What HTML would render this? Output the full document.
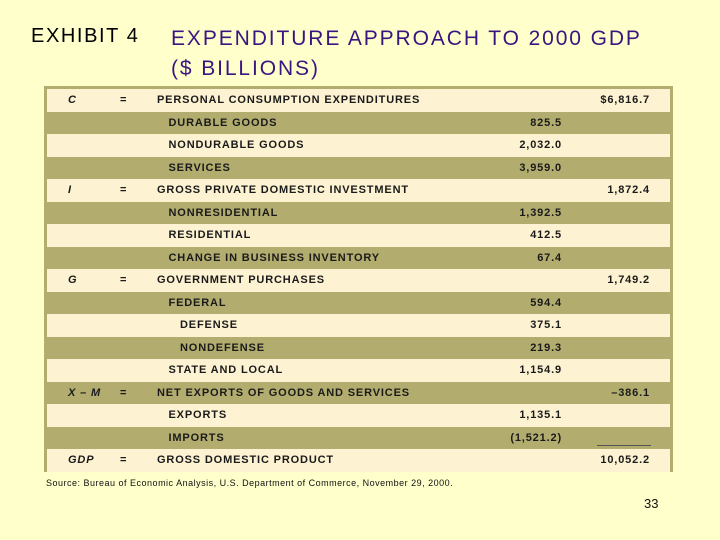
<!DOCTYPE html>
<html><head><meta charset="utf-8"><style>
body{margin:0;width:720px;height:540px;background:#ffffcc;position:relative;overflow:hidden;font-family:"Liberation Sans",sans-serif}
.t{position:absolute;white-space:nowrap}
#tbl{position:absolute;left:44px;top:86px;width:629px;height:386px;background:#b2ad6e}
.row{position:absolute;left:3px;width:623px;height:22.5px;font-size:11px;font-weight:bold;color:#1a1a1a;letter-spacing:0.85px}
.row span{position:absolute;top:5px;white-space:nowrap}
.c{background:#fdf3d2}.o{background:#b2ad6e}
</style></head><body>
<div class="t" style="left:31px;top:25px;font-size:20px;color:#000;letter-spacing:1.6px">EXHIBIT 4</div>
<div class="t" style="left:171px;top:24px;font-size:21px;color:#3a1580;line-height:30px;letter-spacing:1.9px">EXPENDITURE APPROACH TO 2000 GDP<br>($ BILLIONS)</div>
<div id="tbl"></div>
<div class="t" style="left:46px;top:478px;font-size:9px;color:#111;letter-spacing:0.5px">Source: Bureau of Economic Analysis, U.S. Department of Commerce, November 29, 2000.</div>
<div class="t" style="left:644px;top:496px;font-size:13px;color:#111">33</div>
<script>
const labels=["PERSONAL CONSUMPTION EXPENDITURES","DURABLE GOODS","NONDURABLE GOODS","SERVICES","GROSS PRIVATE DOMESTIC INVESTMENT","NONRESIDENTIAL","RESIDENTIAL","CHANGE IN BUSINESS INVENTORY","GOVERNMENT PURCHASES","FEDERAL","DEFENSE","NONDEFENSE","STATE AND LOCAL","NET EXPORTS OF GOODS AND SERVICES","EXPORTS","IMPORTS","GROSS DOMESTIC PRODUCT"];
const levels=[0,1,1,1,0,1,1,1,0,1,2,2,1,0,1,1,0];
const subValues=["","825.5","2,032.0","3,959.0","","1,392.5","412.5","67.4","","594.4","375.1","219.3","1,154.9","","1,135.1","(1,521.2)",""];
const totalValues=["$6,816.7","","","","1,872.4","","","","1,749.2","","","","","–386.1","","","10,052.2"];
const syms=["C","I","G","X – M","GDP"];
const tbl=document.getElementById('tbl');
let si=0;
labels.forEach((lab,i)=>{
  const r=document.createElement('div');
  r.className='row '+(i%2?'o':'c');
  r.style.top=(3+i*22.5)+'px';
  
  
  let h='';
  if(levels[i]===0){h+=`<span style="left:21px;font-style:italic">${syms[si++]}</span><span style="left:73px">=</span>`;}
  h+=`<span style="left:${110+levels[i]*11.5}px">${lab}</span>`;
  if(subValues[i])h+=`<span style="right:108px">${subValues[i]}</span>`;
  if(totalValues[i])h+=`<span style="right:20px">${totalValues[i]}</span>`;
  r.innerHTML=h;
  tbl.appendChild(r);
});
const ln=document.createElement('div');


ln.style.cssText='position:absolute;left:553px;top:359px;width:54px;height:1px;background:#555';
tbl.appendChild(ln);
</script>
</body></html>
